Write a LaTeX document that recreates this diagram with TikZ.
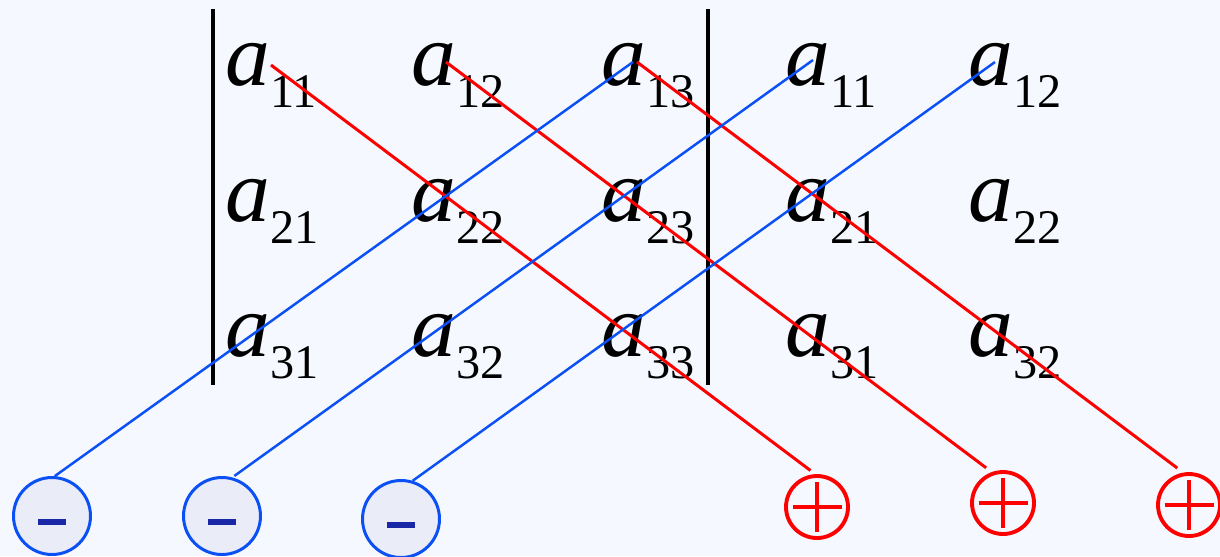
\documentclass[tikz,border=0pt]{standalone}
\usepackage{fontspec}
\setmainfont{Liberation Serif}
\usetikzlibrary{calc}
\definecolor{bgblue}{HTML}{F5F8FE}
\definecolor{lineblue}{HTML}{0A50F5}
\definecolor{minusblue}{HTML}{1A28A8}
\definecolor{minusfill}{HTML}{EAEDF7}
\newcommand{\elem}[2]{\textit{a}\raisebox{-13pt}{\fontsize{27.5}{30}\selectfont #1#2}}

\begin{document}
\begin{tikzpicture}[x=0.02cm, y=-0.02cm,
    elem/.style={inner sep=0pt, anchor=base west, font=\fontsize{51}{60}\selectfont},
    bar/.style={line width=2.3pt},
    plusline/.style={red, line width=1.7pt},
    minusline/.style={lineblue, line width=1.4pt},
    minusring/.style={circle, draw=lineblue, fill=minusfill, line width=1.7pt, minimum size=1.54cm, inner sep=0pt,
        path picture={\fill[minusblue] ($(path picture bounding box.center)+(-0.28cm,-0.06cm)$) rectangle ++(0.56cm,-0.12cm);}},
    plusring/.style={circle, draw=red, line width=2.2pt, minimum size=1.24cm, inner sep=0pt,
        path picture={\draw[red, line width=2.1pt] (path picture bounding box.center) +(-0.49cm,0) -- +(0.49cm,0) +(0,-0.5cm) -- +(0,0.5cm);}}]
    \path[use as bounding box, fill=bgblue] (0,0) rectangle (1220,556);

    % determinant entries
    \node[elem] (a11) at (225,85) {\elem{1}{1}};
    \node[elem] (a12) at (411,85) {\elem{1}{2}};
    \node[elem] (a13) at (601,85) {\elem{1}{3}};
    \node[elem] (a21) at (225,221) {\elem{2}{1}};
    \node[elem] (a22) at (411,221) {\elem{2}{2}};
    \node[elem] (a23) at (601,221) {\elem{2}{3}};
    \node[elem] (a31) at (225,356) {\elem{3}{1}};
    \node[elem] (a32) at (411,356) {\elem{3}{2}};
    \node[elem] (a33) at (601,356) {\elem{3}{3}};

    % repeated columns
    \node[elem] (c11) at (785,85) {\elem{1}{1}};
    \node[elem] (c12) at (968,85) {\elem{1}{2}};
    \node[elem] (c21) at (785,221) {\elem{2}{1}};
    \node[elem] (c22) at (968,221) {\elem{2}{2}};
    \node[elem] (c31) at (785,356) {\elem{3}{1}};
    \node[elem] (c32) at (968,356) {\elem{3}{2}};

    % bars
    \draw[bar] (213,9) -- (213,385);
    \draw[bar] (708,9) -- (708,385);

    % signs
    \node[minusring] (m1) at (52,516) {};
    \node[minusring] (m2) at (222,516) {};
    \node[minusring] (m3) at (401,519) {};
    \node[plusring] (p1) at (817,507) {};
    \node[plusring] (p2) at (1003,503) {};
    \node[plusring] (p3) at (1189,505) {};

    % diagonals
    \draw[plusline, shorten >=0.12cm] ($(a11.base west)+(46,-20)$) -- (p1.93);
    \draw[plusline, shorten >=0.14cm] ($(a12.base west)+(35,-23)$) -- (p2.110);
    \draw[plusline, shorten >=0.15cm] ($(a13.base west)+(36,-23)$) -- (p3.100);
    \draw[minusline] ($(a13.base west)+(32,-23)$) -- (m1.86);
    \draw[minusline, shorten >=0.05cm] ($(c11.base west)+(28,-25)$) -- (m2.75);
    \draw[minusline] ($(c12.base west)+(27,-23)$) -- (m3.73);
\end{tikzpicture}
\end{document}
